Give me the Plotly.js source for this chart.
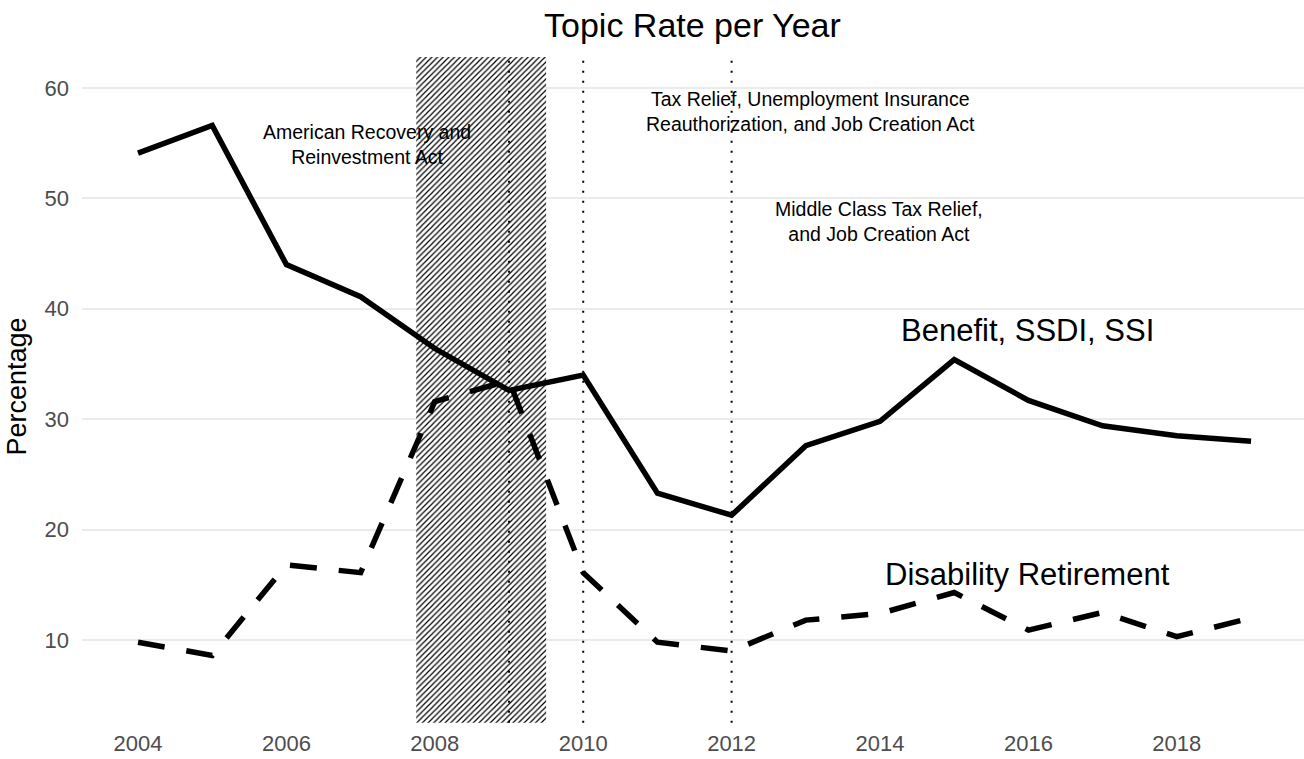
<!DOCTYPE html>
<html>
<head>
<meta charset="utf-8">
<script src="https://cdn.plot.ly/plotly-3.0.1.min.js"></script>
<style>html,body{margin:0;padding:0;background:#fff;}#chart{width:1304px;height:759px;}</style>
</head>
<body>
<div id="chart"></div>
<script>
const years = [2004,2005,2006,2007,2008,2009,2010,2011,2012,2013,2014,2015,2016,2017,2018,2019];
const benefitSSDI = [54.1,56.6,44.0,41.1,36.4,32.6,34.0,23.3,21.3,27.6,29.8,35.4,31.7,29.4,28.5,28.0];
const disabilityRetirement = [9.8,8.6,16.8,16.1,31.6,33.5,16.1,9.8,9.0,11.8,12.4,14.3,10.9,12.5,10.3,12.0];
const recessionSpan = [2007.75, 2009.5];
const recessionLevels = [2.5, 62.8];
const actYears = [2009, 2010, 2012];
const actLabels = [
  {x: 2007.08, y: 54.9, text: 'American Recovery and<br>Reinvestment Act'},
  {x: 2013.06, y: 57.9, text: 'Tax Relief, Unemployment Insurance<br>Reauthorization, and Job Creation Act'},
  {x: 2013.99, y: 47.9, text: 'Middle Class Tax Relief,<br>and Job Creation Act'}
];
const seriesLabels = [
  {x: 2015.99, y: 38.0, text: 'Benefit, SSDI, SSI'},
  {x: 2015.99, y: 15.9, text: 'Disability Retirement'}
];
const xTicks = [2004,2006,2008,2010,2012,2014,2016,2018];
const yTicks = [10,20,30,40,50,60];

const font = 'Liberation Sans, Arial, sans-serif';

const traces = [
  {
    x: [recessionSpan[0], recessionSpan[1], recessionSpan[1], recessionSpan[0], recessionSpan[0]],
    y: [recessionLevels[0], recessionLevels[0], recessionLevels[1], recessionLevels[1], recessionLevels[0]],
    type: 'scatter', mode: 'lines', fill: 'toself',
    line: {width: 0, color: 'rgba(0,0,0,0)'},
    fillcolor: 'white',
    fillpattern: {shape: '/', size: 4, solidity: 0.3, fgcolor: 'black', bgcolor: 'white', fillmode: 'replace'},
    hoverinfo: 'skip', showlegend: false
  },
  {
    x: years, y: benefitSSDI, type: 'scatter', mode: 'lines',
    line: {color: 'black', width: 5.5},
    showlegend: false
  },
  {
    x: years, y: disabilityRetirement, type: 'scatter', mode: 'lines',
    line: {color: 'black', width: 5.5, dash: '27px,22px'},
    showlegend: false
  }
];

const shapes = actYears.map(yr => ({
  type: 'line', xref: 'x', yref: 'y', x0: yr, x1: yr,
  y0: recessionLevels[0], y1: recessionLevels[1] - 0.3,
  line: {color: 'black', width: 2, dash: '2px,8px'}, layer: 'above'
}));

const annotations = actLabels.map(a => ({
  x: a.x, y: a.y, text: a.text, showarrow: false,
  font: {family: font, size: 19.5, color: 'black'}, align: 'center'
})).concat(seriesLabels.map(a => ({
  x: a.x, y: a.y, text: a.text, showarrow: false,
  font: {family: font, size: 31, color: 'black'}, align: 'center'
})));

const layout = {
  width: 1304, height: 759,
  margin: {l: 82, r: 0, t: 45, b: 31, pad: 0},
  paper_bgcolor: 'white', plot_bgcolor: 'white',
  title: {text: 'Topic Rate per Year', x: 0.531, xanchor: 'center', y: 0.967, yanchor: 'middle',
          font: {family: font, size: 34, color: 'black'}},
  xaxis: {
    range: [2003.245, 2019.714], tickvals: xTicks, ticktext: xTicks.map(String),
    showgrid: false, zeroline: false, showline: false, ticks: '',
    tickfont: {family: font, size: 22, color: '#4d4d4d'}, automargin: false
  },
  yaxis: {
    range: [2.03, 63.89], tickvals: yTicks, ticktext: yTicks.map(String),
    showgrid: true, gridcolor: '#ebebeb', gridwidth: 2, zeroline: false, showline: false, ticks: '',
    ticklabelstandoff: 12, automargin: false,
    tickfont: {family: font, size: 22, color: '#4d4d4d'},
    title: {text: 'Percentage', font: {family: font, size: 27, color: 'black'}, standoff: 10}
  },
  shapes: shapes,
  annotations: annotations,
  showlegend: false
};

Plotly.newPlot('chart', traces, layout, {displayModeBar: false, staticPlot: true});
</script>
</body>
</html>
